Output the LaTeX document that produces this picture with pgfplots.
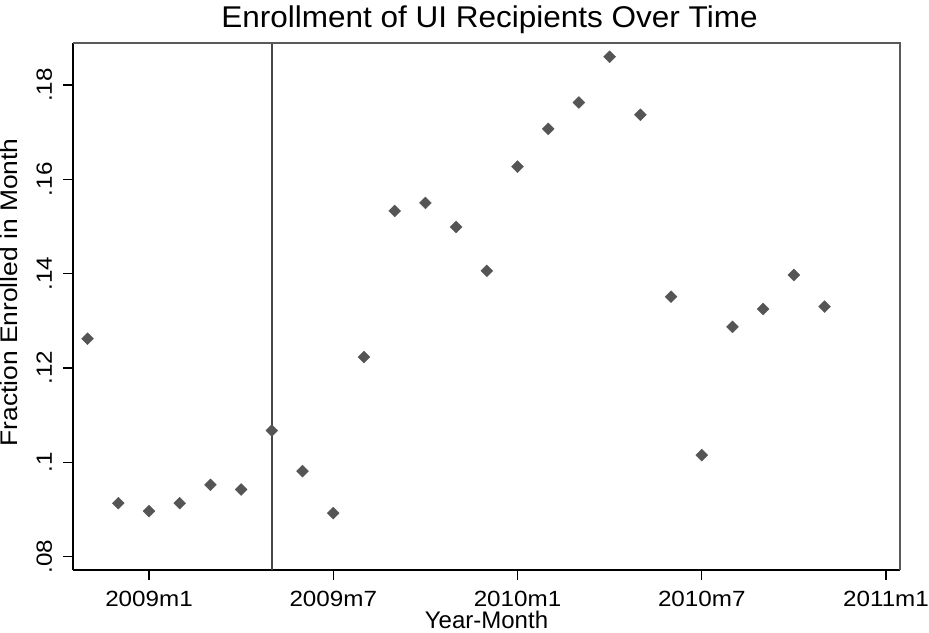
\documentclass[border=0pt]{standalone}
\usepackage{fontspec}
\setmainfont{Liberation Sans}
\usepackage{graphicx}
\usepackage{pgfplots}
\pgfplotsset{compat=1.18}
\definecolor{mk}{RGB}{85,85,85}
\definecolor{vl}{RGB}{70,70,70}
\newcommand\sx[1]{\scalebox{1.1}[1]{#1}}
\pgfplotstableread{
x y
-2 0.1262
-1 0.0913
0 0.0896
1 0.0913
2 0.0952
3 0.0942
4 0.1067
5 0.0981
6 0.0892
7 0.1223
8 0.1533
9 0.1550
10 0.1499
11 0.1406
12 0.1627
13 0.1707
14 0.1763
15 0.1860
16 0.1737
17 0.1351
18 0.1015
19 0.1287
20 0.1325
21 0.1397
22 0.1330
}\enroll
\begin{document}
\begin{tikzpicture}
\begin{axis}[
 scale only axis, width=827pt, height=527pt,
 xmin=-2.475, xmax=24.456, ymin=0.07713, ymax=0.18892,
 axis x line*=bottom, axis y line*=left,
 axis line style={black, line width=1.8pt, -},
 xtick={0,6,12,18,24}, xticklabels={\sx{2009m1},\sx{2009m7},\sx{2010m1},\sx{2010m7},\sx{2011m1}},
 ytick={0.08,0.1,0.12,0.14,0.16,0.18}, yticklabels={\sx{.08},\sx{.1},\sx{.12},\sx{.14},\sx{.16},\sx{.18}},
 tick align=outside, major tick length=10pt,
 tick style={black, line width=1.3pt},
 ticklabel style={font=\fontsize{22}{26}\selectfont, inner sep=0pt},
 xticklabel style={anchor=base, yshift=-26.5pt},
 yticklabel style={xshift=-11pt, rotate=90, anchor=base},
 clip=false,
]
\addplot[vl, line width=1.4pt] coordinates {(4,0.07713) (4,0.18892)};
\addplot[only marks, mark=square*, mark size=4.2pt, mark options={rotate=45, fill=mk, draw=mk}] table[x=x,y=y] {\enroll};
\draw[line width=1.3pt, color=gray!70!black] (rel axis cs:0,1) -- (rel axis cs:1,1) -- (rel axis cs:1,0);
\coordinate (ll) at (rel axis cs:0,0);
\coordinate (ur) at (rel axis cs:1,1);
\node[anchor=base, font=\fontsize{30}{36}\selectfont, inner sep=0pt] at ([xshift=3pt, yshift=15pt]rel axis cs:0.5,1) {\scalebox{1.05}[1]{Enrollment of UI Recipients Over Time}};
\node[anchor=base, font=\fontsize{24}{28}\selectfont, inner sep=0pt] at ([yshift=-58pt]rel axis cs:0.5,0) {Year-Month};
\node[rotate=90, anchor=base, font=\fontsize{24}{28}\selectfont, inner sep=0pt] at ([xshift=-55pt, yshift=14pt]rel axis cs:0,0.5) {\scalebox{1.1}[1]{Fraction Enrolled in Month}};
\end{axis}
\pgfresetboundingbox
\path[use as bounding box] ([shift={(-73pt,-62pt)}]ll) rectangle ([shift={(29pt,43pt)}]ur);
\end{tikzpicture}
\end{document}
